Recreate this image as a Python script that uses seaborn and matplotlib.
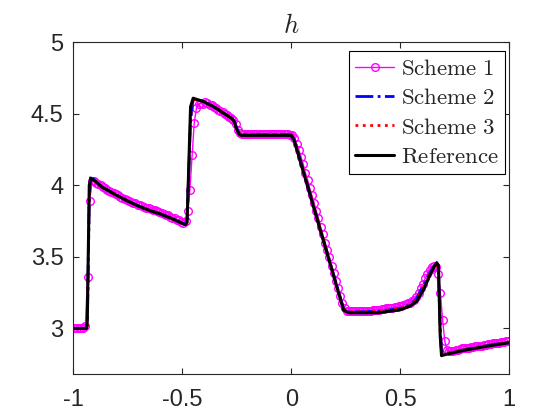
import matplotlib
matplotlib.use('Agg')
import matplotlib.pyplot as plt
import numpy as np
import seaborn as sns

# Scheme 1: cell averages on 200 cells over [-1, 1]
cell_x = np.linspace(-0.995, 0.995, 200)
scheme1_h = [
    3.00, 3.00, 3.00, 3.00, 3.00, 3.02, 3.36, 3.89, 4.03, 4.03,
    4.02, 4.01, 4.00, 3.99, 3.98, 3.97, 3.96, 3.955, 3.945, 3.94,
    3.93, 3.92, 3.91, 3.905, 3.90, 3.89, 3.885, 3.88, 3.875, 3.865,
    3.86, 3.855, 3.85, 3.845, 3.84, 3.835, 3.83, 3.825, 3.82, 3.815,
    3.81, 3.80, 3.795, 3.79, 3.78, 3.775, 3.77, 3.76, 3.755, 3.745,
    3.74, 3.75, 3.82, 3.97, 4.21, 4.44, 4.54, 4.57, 4.575, 4.57,
    4.58, 4.575, 4.565, 4.56, 4.55, 4.54, 4.53, 4.52, 4.51, 4.50,
    4.49, 4.48, 4.47, 4.455, 4.43, 4.39, 4.365, 4.36, 4.36, 4.36,
    4.36, 4.36, 4.36, 4.36, 4.36, 4.36, 4.36, 4.36, 4.36, 4.36,
    4.36, 4.36, 4.36, 4.36, 4.36, 4.36, 4.36, 4.36, 4.36, 4.355,
    4.35, 4.33, 4.29, 4.25, 4.20, 4.15, 4.09, 4.04, 3.98, 3.93,
    3.88, 3.82, 3.77, 3.71, 3.66, 3.60, 3.55, 3.50, 3.44, 3.39,
    3.33, 3.28, 3.23, 3.18, 3.14, 3.125, 3.12, 3.12, 3.12, 3.12,
    3.12, 3.12, 3.12, 3.12, 3.125, 3.125, 3.125, 3.13, 3.13, 3.13,
    3.13, 3.135, 3.135, 3.14, 3.14, 3.145, 3.145, 3.15, 3.15, 3.155,
    3.16, 3.165, 3.17, 3.175, 3.18, 3.19, 3.20, 3.22, 3.25, 3.28,
    3.31, 3.35, 3.38, 3.41, 3.43, 3.44, 3.43, 3.38, 3.25, 3.06,
    2.91, 2.85, 2.84, 2.845, 2.845, 2.85, 2.85, 2.855, 2.86, 2.86,
    2.865, 2.865, 2.87, 2.87, 2.875, 2.875, 2.88, 2.88, 2.885, 2.885,
    2.89, 2.89, 2.895, 2.895, 2.90, 2.90, 2.905, 2.905, 2.91, 2.91,
]

# Schemes 2, 3 and reference: breakpoints
knot_x = [-1.0, -0.94, -0.936, -0.927, -0.92, -0.90, -0.87, -0.80, -0.75, -0.70,
          -0.65, -0.60, -0.55, -0.50, -0.485, -0.478, -0.462, -0.45, -0.43, -0.40,
          -0.35, -0.30, -0.27, -0.26, -0.25, -0.24, -0.23, 0.0, 0.015, 0.03,
          0.24, 0.255, 0.27, 0.40, 0.50, 0.545, 0.576, 0.607, 0.63, 0.652,
          0.668, 0.676, 0.684, 0.69, 0.714, 0.79, 0.898, 1.0]
reference_h = [3.0, 3.0, 3.05, 4.0, 4.05, 4.03, 3.99, 3.93, 3.89, 3.855,
               3.825, 3.80, 3.77, 3.735, 3.725, 3.74, 4.55, 4.61, 4.60, 4.585,
               4.545, 4.495, 4.465, 4.44, 4.39, 4.36, 4.35, 4.35, 4.31, 4.23,
               3.13, 3.115, 3.11, 3.11, 3.13, 3.156, 3.19, 3.27, 3.35, 3.42,
               3.46, 3.44, 2.95, 2.81, 2.82, 2.846, 2.876, 2.90]
scheme2_h = [3.0, 3.0, 3.02, 3.9, 4.07, 4.03, 3.99, 3.93, 3.89, 3.855,
             3.825, 3.80, 3.77, 3.735, 3.73, 3.76, 4.45, 4.60, 4.60, 4.585,
             4.545, 4.495, 4.465, 4.445, 4.40, 4.37, 4.355, 4.355, 4.32, 4.24,
             3.14, 3.12, 3.115, 3.12, 3.14, 3.165, 3.21, 3.30, 3.37, 3.43,
             3.45, 3.40, 3.0, 2.84, 2.825, 2.85, 2.88, 2.905]
scheme3_h = [3.0, 3.0, 3.02, 3.92, 4.06, 4.03, 3.99, 3.93, 3.89, 3.855,
             3.825, 3.80, 3.77, 3.735, 3.73, 3.75, 4.48, 4.60, 4.60, 4.585,
             4.545, 4.495, 4.465, 4.445, 4.40, 4.365, 4.355, 4.355, 4.32, 4.24,
             3.14, 3.12, 3.115, 3.12, 3.14, 3.16, 3.20, 3.29, 3.36, 3.43,
             3.45, 3.41, 2.98, 2.83, 2.825, 2.85, 2.88, 2.905]

x_ticks = [-1, -0.5, 0, 0.5, 1]
x_tick_labels = ['-1', '-0.5', '0', '0.5', '1']
y_ticks = [3, 3.5, 4, 4.5, 5]
y_tick_labels = ['3', '3.5', '4', '4.5', '5']

sns.set_style('ticks')
plt.rcParams['font.family'] = ['Liberation Sans', 'DejaVu Sans']
plt.rcParams['mathtext.fontset'] = 'cm'
plt.rcParams['axes.unicode_minus'] = False

fig = plt.figure(figsize=(5.6, 4.2), dpi=100)
ax = fig.add_axes([0.131, 0.109, 0.778, 0.790])

sns.lineplot(x=cell_x, y=scheme1_h, ax=ax, color='#ff00ff', lw=1.0, marker='o',
             markersize=5.5, markerfacecolor='none', markeredgecolor='#ff00ff',
             markeredgewidth=1.0, estimator=None, label=r'$\mathrm{Scheme\ 1}$')
sns.lineplot(x=knot_x, y=scheme2_h, ax=ax, color='#0000ff', lw=2.0, linestyle='-.',
             estimator=None, label=r'$\mathrm{Scheme\ 2}$')
sns.lineplot(x=knot_x, y=scheme3_h, ax=ax, color='#ff0000', lw=2.0, linestyle=':',
             estimator=None, label=r'$\mathrm{Scheme\ 3}$')
sns.lineplot(x=knot_x, y=reference_h, ax=ax, color='black', lw=2.2, linestyle='-',
             estimator=None, label=r'$\mathrm{Reference}$')

ax.set_xlim(-1, 1)
ax.set_ylim(2.68, 5)
ax.set_xticks(x_ticks)
ax.set_xticklabels(x_tick_labels)
ax.set_yticks(y_ticks)
ax.set_yticklabels(y_tick_labels)
ax.tick_params(direction='in', length=4, width=0.8, labelsize=17, colors='#262626',
               top=True, right=True, pad=7)
ax.tick_params(axis='x', pad=11)
for side in ax.spines.values():
    side.set_visible(True)
    side.set_linewidth(0.8)
    side.set_color('#262626')
ax.set_xlabel('')
ax.set_ylabel('')
ax.set_title(r'$h$', fontsize=19, pad=7)

leg = ax.legend(loc='upper right', bbox_to_anchor=(0.991, 0.975), borderaxespad=0,
                fontsize=16.5, handlelength=1.7, handletextpad=0.3, labelspacing=0.27,
                borderpad=0.28, fancybox=False, framealpha=1, edgecolor='black')
leg.get_frame().set_linewidth(0.8)

fig.savefig('out.png', dpi=100)
